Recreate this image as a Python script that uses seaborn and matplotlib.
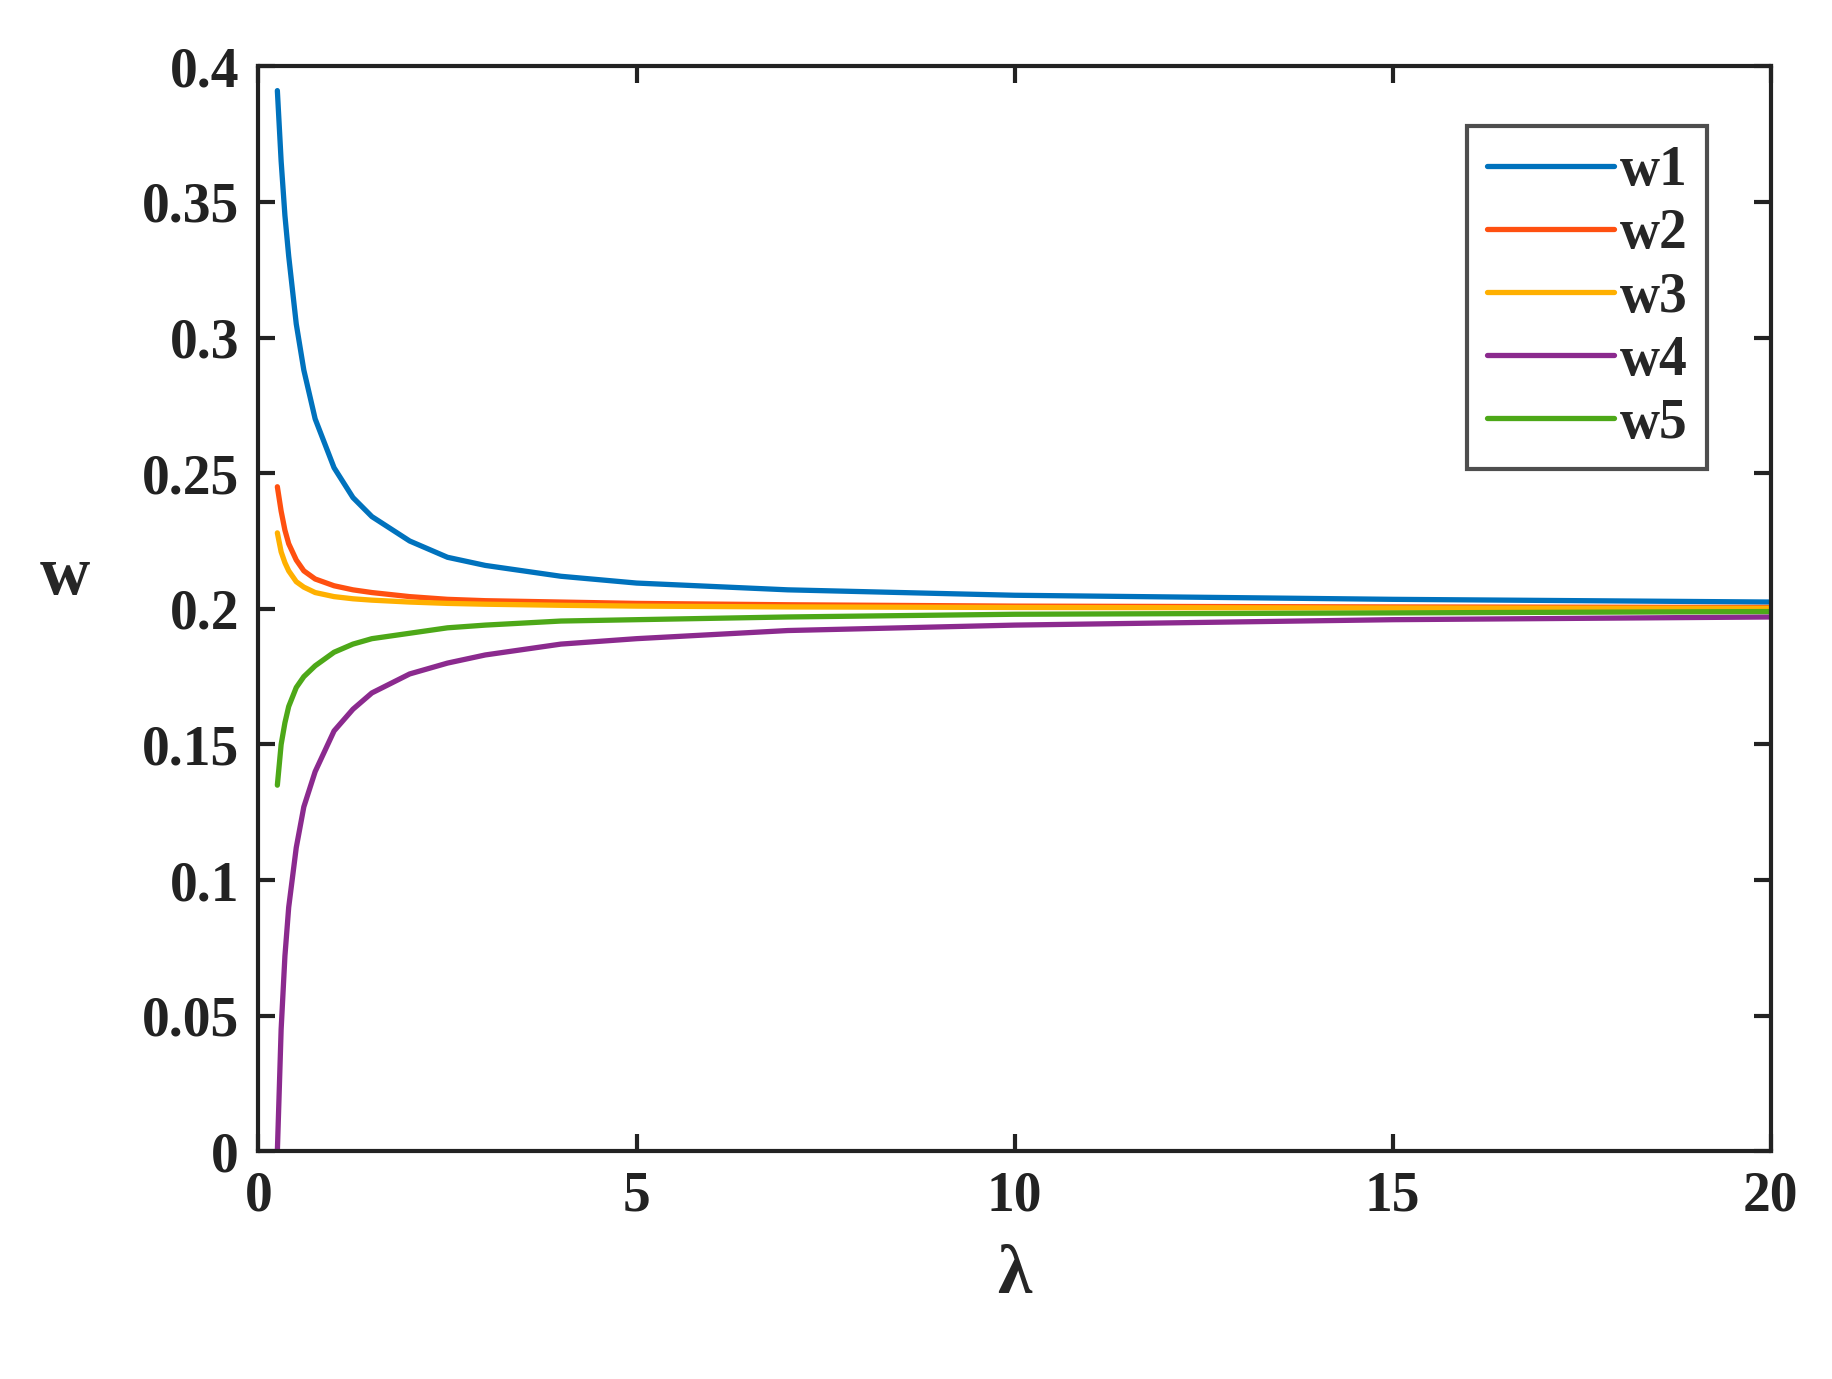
import seaborn as sns
import matplotlib.pyplot as plt
import pandas as pd

lam = [0.25, 0.3, 0.35, 0.4, 0.5, 0.6, 0.75, 1.0, 1.25, 1.5, 2.0, 2.5, 3.0, 4.0, 5.0, 7.0, 10.0, 15.0, 20.0]
w1 = [0.391, 0.365, 0.345, 0.330, 0.305, 0.288, 0.270, 0.252, 0.241, 0.234, 0.225, 0.219, 0.216, 0.212, 0.2095, 0.207, 0.205, 0.2035, 0.2025]
w2 = [0.245, 0.236, 0.229, 0.224, 0.218, 0.214, 0.211, 0.2085, 0.207, 0.206, 0.2045, 0.2035, 0.203, 0.2025, 0.202, 0.2015, 0.201, 0.2007, 0.2005]
w3 = [0.228, 0.221, 0.217, 0.214, 0.210, 0.208, 0.206, 0.2045, 0.2037, 0.2032, 0.2025, 0.202, 0.2017, 0.2013, 0.201, 0.2007, 0.2005, 0.2003, 0.2002]
w4 = [0.0, 0.045, 0.072, 0.090, 0.112, 0.127, 0.140, 0.155, 0.163, 0.169, 0.176, 0.180, 0.183, 0.187, 0.189, 0.192, 0.194, 0.196, 0.197]
w5 = [0.135, 0.150, 0.158, 0.164, 0.171, 0.175, 0.179, 0.184, 0.187, 0.189, 0.191, 0.193, 0.194, 0.1955, 0.196, 0.197, 0.198, 0.1985, 0.199]
colors = ['#0072BD', '#FF5010', '#FFB000', '#8B2A8E', '#4DA818']

df = pd.DataFrame({'lam': lam, 'w1': w1, 'w2': w2, 'w3': w3, 'w4': w4, 'w5': w5})
long = df.melt(id_vars='lam', var_name='series', value_name='w')

sns.set_theme(style="white")
plt.rcParams['font.family'] = ['Liberation Serif', 'DejaVu Serif']
plt.rcParams['font.weight'] = 'bold'

fig = plt.figure(figsize=(18.33, 13.79), dpi=100)
ax = fig.add_axes([0.141, 0.165, 0.825, 0.787])
sns.lineplot(data=long, x='lam', y='w', hue='series', palette=colors, linewidth=3.8, ax=ax)

ax.set_xlim(0, 20)
ax.set_ylim(0, 0.4)
ax.set_xticks([0, 5, 10, 15, 20])
ax.set_yticks([0, 0.05, 0.1, 0.15, 0.2, 0.25, 0.3, 0.35, 0.4])
ax.set_yticklabels(['0', '0.05', '0.1', '0.15', '0.2', '0.25', '0.3', '0.35', '0.4'])
ax.tick_params(direction='in', length=12, width=3, top=True, right=True, left=True, bottom=True,
               labelsize=40, colors='#222222', pad=14)
for lbl in ax.get_xticklabels() + ax.get_yticklabels():
    lbl.set_fontweight('bold')
for s in ax.spines.values():
    s.set_linewidth(3)
    s.set_color('#222222')
ax.set_xlabel('λ', fontsize=50, fontweight='bold', labelpad=15)
ax.set_ylabel('w', fontsize=50, fontweight='bold', rotation=0, labelpad=55)

leg = ax.legend(loc='upper right', bbox_to_anchor=(0.958, 0.945), fontsize=40, frameon=True,
                fancybox=False, edgecolor='#222222', handlelength=2.3, handletextpad=0.1,
                borderpad=0.35, labelspacing=0.2, borderaxespad=0)
leg.get_frame().set_linewidth(3)
for line in leg.get_lines():
    line.set_linewidth(3.8)
for t in leg.get_texts():
    t.set_fontweight('bold')

plt.savefig('out.png', dpi=100, facecolor='white')
